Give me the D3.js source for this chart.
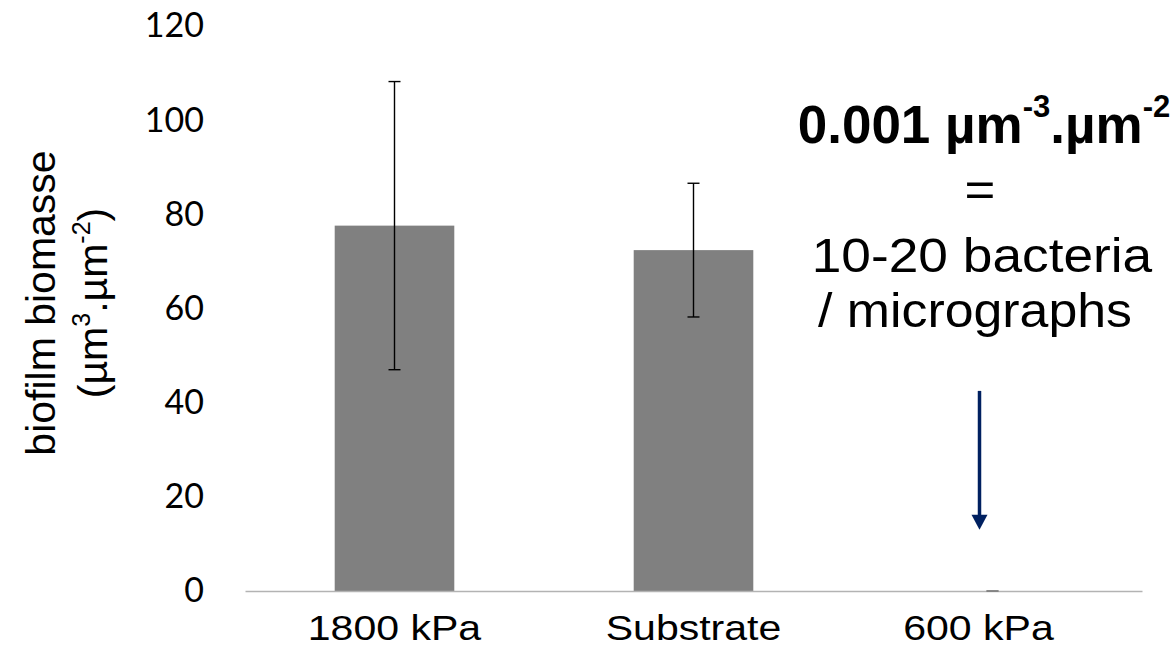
<!DOCTYPE html>
<html><head><meta charset="utf-8">
<script src="https://cdn.jsdelivr.net/npm/d3@7"></script>
<style>body{margin:0;background:#fff} svg{display:block}</style>
</head><body>
<script>
const categories = ["1800 kPa", "Substrate", "600 kPa"];
const values = [77.6, 72.4, 0.001];
const errors = [30.6, 14.2, 0.001];
const yTicks = [0, 20, 40, 60, 80, 100, 120];
const arrowFrom = 42.5, arrowTo = 13.0;

const W = 1176, H = 651;
const svg = d3.select("body").append("svg").attr("width", W).attr("height", H);

const x = d3.scaleBand().domain(categories).range([245, 1142]).paddingInner(0.6).paddingOuter(0.3);
const y = d3.scaleLinear().domain([0, 120]).range([591, 26]);

// y axis (labels only)
const ya = svg.append("g").attr("transform", "translate(245,0)")
  .call(d3.axisLeft(y).tickValues(yTicks).tickSize(0).tickPadding(41));
ya.select(".domain").remove();
ya.selectAll("text").attr("font-family", "Lato, 'Open Sans', sans-serif").attr("font-size", 34).attr("fill", "#000");

// bars
svg.append("g").selectAll("rect").data(categories).join("rect")
  .attr("x", d => x(d)).attr("width", x.bandwidth())
  .attr("y", (d, i) => y(values[i])).attr("height", (d, i) => y(0) - y(values[i]))
  .attr("fill", "#808080");

// x axis
const xa = svg.append("g").attr("transform", "translate(0,591)")
  .call(d3.axisBottom(x).tickSize(0).tickSizeOuter(0));
xa.select(".domain").attr("stroke", "#b3b3b3").attr("stroke-width", 1.3);
xa.selectAll("text").attr("dy", null).attr("y", 0)
  .attr("transform", (d, i) => `translate(${i === 2 ? -14 : 0},49) scale(1.14,1)`)
  .attr("font-family", "'Liberation Sans', Arial, sans-serif").attr("font-size", 36).attr("fill", "#000");

// error bars
const eb = svg.append("g").attr("stroke-width", 1.4);
categories.forEach((c, i) => {
  const cx = x(c) + x.bandwidth() / 2;
  const col = values[i] < 1 ? "#808080" : "#000";
  const hi = y(values[i] + errors[i]), lo = y(Math.max(0, values[i] - errors[i]));
  eb.append("line").attr("stroke", col).attr("x1", cx).attr("x2", cx).attr("y1", hi).attr("y2", lo);
  eb.append("line").attr("stroke", col).attr("x1", cx - 6).attr("x2", cx + 6).attr("y1", hi).attr("y2", hi);
  eb.append("line").attr("stroke", col).attr("x1", cx - 6).attr("x2", cx + 6).attr("y1", lo).attr("y2", lo);
});

// y axis title
const t = svg.append("g").attr("transform", "translate(0,303) rotate(-90)")
  .attr("font-family", "'Liberation Sans', Arial, sans-serif").attr("font-size", 41).attr("fill", "#000")
  .attr("text-anchor", "middle");
t.append("text").attr("x", 0).attr("y", 55).text("biofilm biomasse");
const t2 = t.append("text").attr("x", 0).attr("y", 107);
t2.append("tspan").text("(µm");
t2.append("tspan").attr("font-size", 25).attr("dy", -17).text("3");
t2.append("tspan").attr("dy", 17).text(".µm");
t2.append("tspan").attr("font-size", 25).attr("dy", -17).text("-2");
t2.append("tspan").attr("dy", 17).text(")");

// arrow
const ax = x("600 kPa") + x.bandwidth() / 2 - 13;
const headLen = 15, headW = 8;
svg.append("line").attr("x1", ax).attr("x2", ax).attr("y1", y(arrowFrom)).attr("y2", y(arrowTo) - headLen + 2)
  .attr("stroke", "#002060").attr("stroke-width", 3.5);
svg.append("path")
  .attr("d", `M${ax - headW},${y(arrowTo) - headLen} L${ax + headW},${y(arrowTo) - headLen} L${ax},${y(arrowTo)} Z`)
  .attr("fill", "#002060");

// annotation
const ann = svg.append("g").attr("font-family", "'Liberation Sans', Arial, sans-serif").attr("fill", "#000").attr("text-anchor", "middle");
const b = ann.append("text").attr("transform", "translate(984,143)").attr("font-size", 53).attr("font-weight", "bold");
b.append("tspan").text("0.001 µm");
b.append("tspan").attr("font-size", 31).attr("dy", -26).text("-3");
b.append("tspan").attr("dy", 26).text(".µm");
b.append("tspan").attr("font-size", 31).attr("dy", -26).text("-2");
ann.append("text").attr("transform", "translate(980,206) scale(1.1,1)").attr("font-size", 48).text("=");
ann.append("text").attr("transform", "translate(982,272) scale(1.11,1)").attr("font-size", 48).text("10-20 bacteria");
ann.append("text").attr("transform", "translate(975,327) scale(1.08,1)").attr("font-size", 48).text("/ micrographs");
</script>
</body></html>
